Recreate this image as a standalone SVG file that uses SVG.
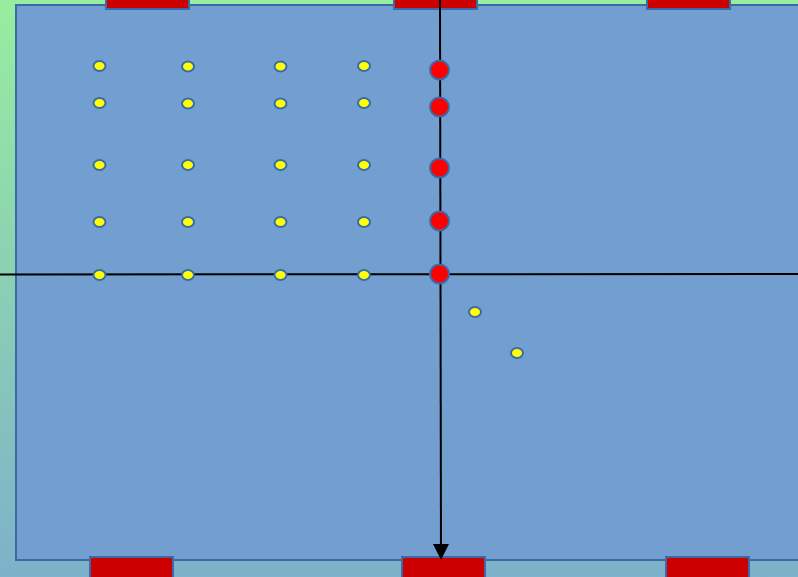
<svg xmlns="http://www.w3.org/2000/svg" width="798" height="577" viewBox="0 0 798 577">
<defs>
<linearGradient id="bg" x1="0" y1="0" x2="0" y2="1">
<stop offset="0" stop-color="#97ED9F"/>
<stop offset="1" stop-color="#7EB1CA"/>
</linearGradient>
<marker id="arr" markerWidth="16" markerHeight="16" refX="14" refY="8" orient="auto" markerUnits="userSpaceOnUse">
<path d="M0,0 L16,8 L0,16 Z" fill="#000"/>
</marker>
<style>
.pad{fill:#CC0000;stroke:#3A6BA8;stroke-width:2}
.y{fill:#FFFF00;stroke:#3A6BA8;stroke-width:2}
.r{fill:#FF0000;stroke:#3A6BA8;stroke-width:2}
.ln{stroke:#000;stroke-width:2;fill:none}
</style>
</defs>
<rect width="798" height="577" fill="url(#bg)"/>
<g id="field">
<rect x="16" y="5" width="800" height="555" fill="#729FCF" stroke="#3A6BA8" stroke-width="2"/>
</g>
<g id="pads">
<rect class="pad" x="106" y="-5" width="83" height="14"/>
<rect class="pad" x="394" y="-5" width="83" height="14"/>
<rect class="pad" x="647" y="-5" width="83" height="14"/>
<rect class="pad" x="90" y="557" width="83" height="26"/>
<rect class="pad" x="402" y="557" width="83" height="26"/>
<rect class="pad" x="666" y="557" width="83" height="26"/>
</g>
<g id="connectors">
<line class="ln" x1="0" y1="274.5" x2="798" y2="274"/>
<line class="ln" x1="440" y1="0" x2="441" y2="558" marker-end="url(#arr)"/>
</g>
<g id="yellow">
<ellipse class="y" cx="99.5" cy="66" rx="6" ry="5"/>
<ellipse class="y" cx="188" cy="66.5" rx="6" ry="5"/>
<ellipse class="y" cx="280.5" cy="66.5" rx="6" ry="5"/>
<ellipse class="y" cx="364" cy="66" rx="6" ry="5"/>
<ellipse class="y" cx="99.5" cy="103" rx="6" ry="5"/>
<ellipse class="y" cx="188" cy="103.5" rx="6" ry="5"/>
<ellipse class="y" cx="280.5" cy="103.5" rx="6" ry="5"/>
<ellipse class="y" cx="364" cy="103" rx="6" ry="5"/>
<ellipse class="y" cx="99.5" cy="165" rx="6" ry="5"/>
<ellipse class="y" cx="188" cy="165" rx="6" ry="5"/>
<ellipse class="y" cx="280.5" cy="165" rx="6" ry="5"/>
<ellipse class="y" cx="364" cy="165" rx="6" ry="5"/>
<ellipse class="y" cx="99.5" cy="222" rx="6" ry="5"/>
<ellipse class="y" cx="188" cy="222" rx="6" ry="5"/>
<ellipse class="y" cx="280.5" cy="222" rx="6" ry="5"/>
<ellipse class="y" cx="364" cy="222" rx="6" ry="5"/>
<ellipse class="y" cx="99.5" cy="275" rx="6" ry="5"/>
<ellipse class="y" cx="188" cy="275" rx="6" ry="5"/>
<ellipse class="y" cx="280.5" cy="275" rx="6" ry="5"/>
<ellipse class="y" cx="364" cy="275" rx="6" ry="5"/>
<ellipse class="y" cx="475" cy="312" rx="6" ry="5"/>
<ellipse class="y" cx="517" cy="353" rx="6" ry="5"/>
</g>
<g id="red">
<circle class="r" cx="439.5" cy="70" r="9.5"/>
<circle class="r" cx="439.5" cy="107" r="9.5"/>
<circle class="r" cx="439.5" cy="168" r="9.5"/>
<circle class="r" cx="439.5" cy="221" r="9.5"/>
<circle class="r" cx="439.5" cy="274" r="9.5"/>
</g>
</svg>
